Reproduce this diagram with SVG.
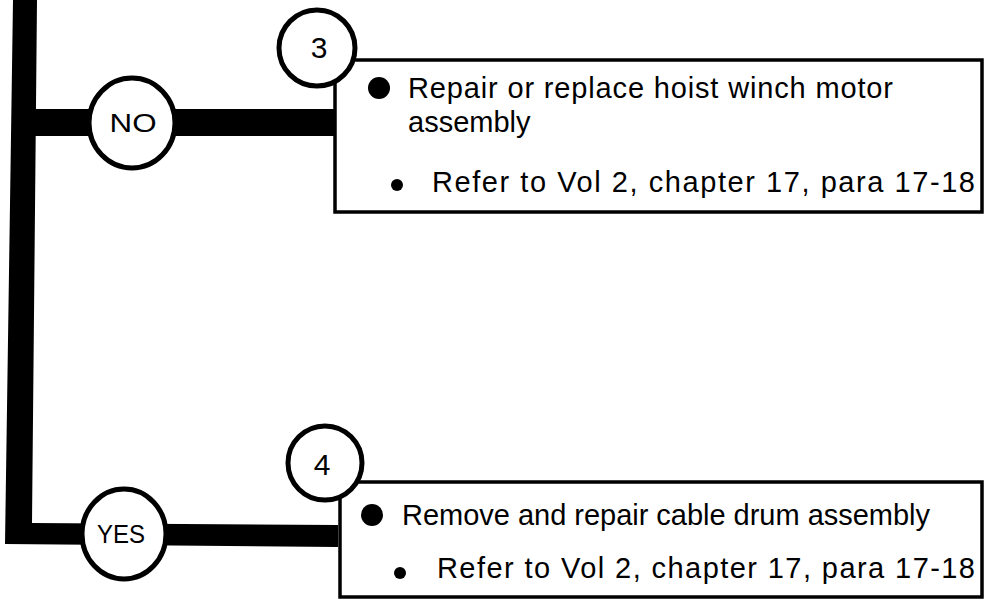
<svg xmlns="http://www.w3.org/2000/svg" width="994" height="600" viewBox="0 0 994 600">
<style>
.bar{fill:#000}
.circ{fill:#fff;stroke:#000;stroke-width:5}
.box{fill:#fff;stroke:#000;stroke-width:3.5}
.lbl{font-family:"Liberation Sans",Arial,sans-serif;fill:#000;text-anchor:middle}
.txt{font-family:"Liberation Sans",Arial,sans-serif;font-size:29px;fill:#000}
.dot{fill:#000}
</style>
<rect width="994" height="600" fill="#fff"/>
<g id="connectors">
<polygon class="bar" points="13,0 37,0 32,523 338,525 338,547 5,544"/>
<rect class="bar" x="30" y="109" width="306" height="27"/>
</g>
<g id="box3">
<rect class="box" x="335" y="60" width="647" height="152"/>
<circle class="dot" cx="379" cy="88" r="11"/>
<text class="txt" x="408" y="98" textLength="485" lengthAdjust="spacing">Repair or replace hoist winch motor</text>
<text class="txt" x="408" y="132">assembly</text>
<circle class="dot" cx="397" cy="185" r="6"/>
<text class="txt" x="432" y="192" textLength="543" lengthAdjust="spacing">Refer to Vol 2, chapter 17, para 17-18</text>
</g>
<g id="circle3">
<circle class="circ" cx="317" cy="48" r="38"/>
<text class="lbl" x="319" y="58" font-size="30">3</text>
</g>
<g id="box4">
<rect class="box" x="340" y="482" width="642" height="115"/>
<circle class="dot" cx="372" cy="515" r="11"/>
<text class="txt" x="402" y="525" textLength="528" lengthAdjust="spacing">Remove and repair cable drum assembly</text>
<circle class="dot" cx="400" cy="573" r="6"/>
<text class="txt" x="437" y="578" textLength="538" lengthAdjust="spacing">Refer to Vol 2, chapter 17, para 17-18</text>
</g>
<g id="circle4">
<circle class="circ" cx="325" cy="463" r="37"/>
<text class="lbl" x="322" y="475" font-size="30">4</text>
</g>
<g id="no">
<ellipse class="circ" cx="132" cy="123" rx="43" ry="45"/>
<text class="lbl" x="133" y="132" font-size="26" textLength="47" lengthAdjust="spacingAndGlyphs">NO</text>
</g>
<g id="yes">
<ellipse class="circ" cx="124" cy="534" rx="42" ry="45"/>
<text class="lbl" x="121" y="543" font-size="26" textLength="48" lengthAdjust="spacingAndGlyphs">YES</text>
</g>
</svg>
